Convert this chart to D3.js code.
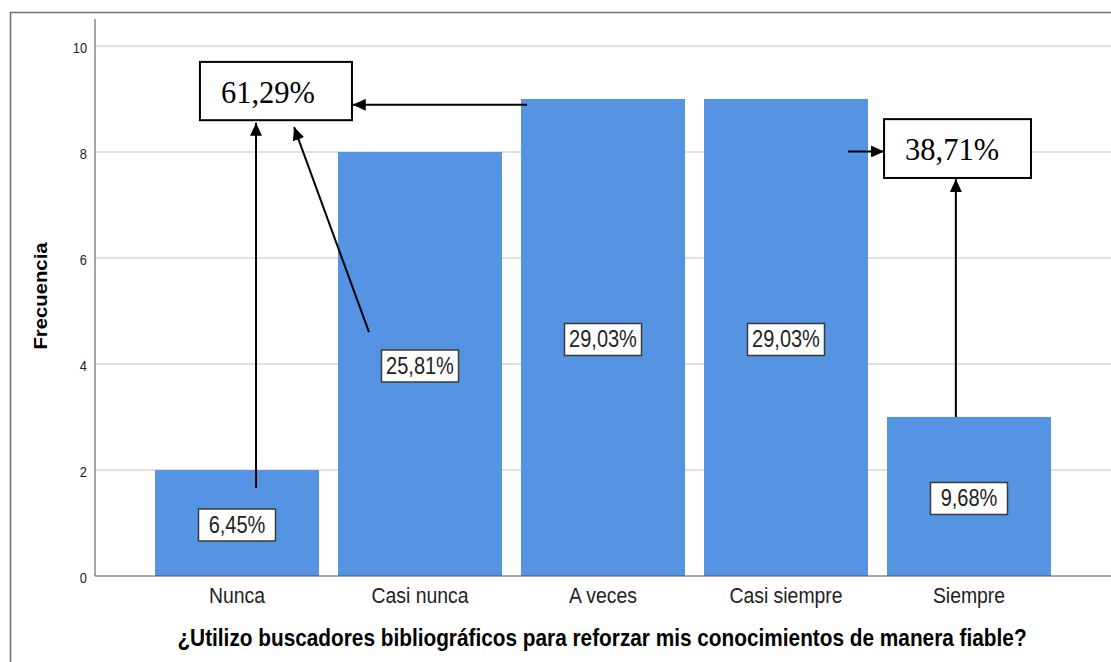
<!DOCTYPE html>
<html>
<head>
<meta charset="utf-8">
<script src="https://cdn.jsdelivr.net/npm/d3@7"></script>
<style>
  html, body { margin: 0; padding: 0; background: #fff; }
  svg { display: block; }
</style>
</head>
<body>
<script>
// ---- data ----
const categories = ["Nunca", "Casi nunca", "A veces", "Casi siempre", "Siempre"];
const frequencies = [2, 8, 9, 9, 3];
const percentLabels = ["6,45%", "25,81%", "29,03%", "29,03%", "9,68%"];
const yTicks = [0, 2, 4, 6, 8, 10];
const yTitle = "Frecuencia";
const xTitle = "¿Utilizo buscadores bibliográficos para reforzar mis conocimientos de manera fiable?";
const groupLabels = ["61,29%", "38,71%"];

// annotation boxes in data units: [catIndex, fraction-of-band] for x, value for y
const groupBoxes = [
  { label: groupLabels[0], x0: [0, 0.274], x1: [1, 0.085], y0: 9.70, y1: 8.60 },
  { label: groupLabels[1], x0: [4, -0.018], x1: [4, 0.878], y0: 8.62, y1: 7.51 }
];
const arrows = [
  { from: [[2, 0.037], 8.89], to: [[1, 0.09], 8.89] },
  { from: [[0, 0.616], 1.66], to: [[0, 0.616], 8.55] },
  { from: [[1, 0.189], 4.60], to: [[0, 0.848], 8.47] },
  { from: [[3, 0.878], 8.01], to: [[4, -0.018], 8.01] },
  { from: [[4, 0.42], 3.0], to: [[4, 0.42], 7.49] }
];

// ---- layout ----
const W = 1111, H = 662;
const stretch = 1.16;
const svg = d3.select("body").append("svg").attr("width", W).attr("height", H);

const x = d3.scaleBand().domain(categories).range([95, 1111])
  .paddingInner(0.104).paddingOuter(0.328);
const y = d3.scaleLinear().domain([0, 10]).range([576, 46]);
const xp = ([i, f]) => x(categories[i]) + f * x.bandwidth();

// outer frame
svg.append("rect").attr("x", 10.5).attr("y", 12.5).attr("width", 1200).attr("height", 800)
  .attr("fill", "none").attr("stroke", "#6e6e6e").attr("stroke-width", 1.5);

// gridlines
svg.append("g").selectAll("line").data(yTicks.filter(d => d > 0)).join("line")
  .attr("x1", 95).attr("x2", 1111)
  .attr("y1", d => y(d)).attr("y2", d => y(d))
  .attr("stroke", "#d6d6d6").attr("stroke-width", 1.5);

// y axis line
svg.append("line").attr("x1", 95).attr("x2", 95).attr("y1", 19).attr("y2", y(0))
  .attr("stroke", "#8a8a8a").attr("stroke-width", 1.5);

// y tick labels
svg.append("g").selectAll("text").data(yTicks).join("text")
  .attr("transform", d => `translate(87,${y(d) + 6.5}) scale(1,${stretch})`)
  .attr("text-anchor", "end")
  .attr("font-family", "Liberation Sans, Arial, sans-serif")
  .attr("font-size", 12.8).attr("fill", "#222")
  .text(d => d);

// bars
svg.append("g").selectAll("rect").data(frequencies).join("rect")
  .attr("x", (d, i) => x(categories[i]))
  .attr("width", x.bandwidth())
  .attr("y", d => y(d))
  .attr("height", d => y(0) - y(d))
  .attr("fill", "#5594e3");

// x axis baseline
svg.append("line").attr("x1", 95).attr("x2", 1111).attr("y1", y(0)).attr("y2", y(0))
  .attr("stroke", "#555").attr("stroke-width", 1.2);

// x tick labels
svg.append("g").selectAll("text").data(categories).join("text")
  .attr("transform", d => `translate(${x(d) + x.bandwidth() / 2},603) scale(1,${stretch})`)
  .attr("text-anchor", "middle")
  .attr("font-family", "Liberation Sans, Arial, sans-serif")
  .attr("font-size", 19.4).attr("fill", "#222")
  .text(d => d);

// axis titles
svg.append("text")
  .attr("transform", `translate(47,296) scale(1,${stretch}) rotate(-90)`)
  .attr("text-anchor", "middle")
  .attr("font-family", "Liberation Sans, Arial, sans-serif")
  .attr("font-weight", "bold").attr("font-size", 17.5).attr("fill", "#000")
  .text(yTitle);

svg.append("text")
  .attr("transform", `translate(602,646) scale(1,${stretch})`)
  .attr("text-anchor", "middle")
  .attr("font-family", "Liberation Sans, Arial, sans-serif")
  .attr("font-weight", "bold").attr("font-size", 20.8).attr("fill", "#000")
  .text(xTitle);

// value label boxes inside bars
const lab = svg.append("g").selectAll("g").data(frequencies).join("g")
  .attr("transform", (d, i) => `translate(${x(categories[i]) + x.bandwidth() / 2},${(y(d) + y(0)) / 2 + 2})`);
lab.append("rect")
  .attr("x", -38.5).attr("y", -16).attr("width", 77).attr("height", 32)
  .attr("fill", "#fff").attr("stroke", "#3a3a3a").attr("stroke-width", 1.5);
lab.append("text")
  .attr("transform", `translate(0,7.5) scale(1,${stretch})`)
  .attr("text-anchor", "middle")
  .attr("font-family", "Liberation Sans, Arial, sans-serif")
  .attr("font-size", 20).attr("fill", "#222")
  .text((d, i) => percentLabels[i]);

// arrow marker
svg.append("defs").append("marker")
  .attr("id", "ah").attr("markerUnits", "userSpaceOnUse")
  .attr("markerWidth", 14).attr("markerHeight", 12)
  .attr("refX", 13).attr("refY", 6).attr("orient", "auto")
  .append("path").attr("d", "M0,0 L13,6 L0,12 Z").attr("fill", "#000");

svg.append("g").selectAll("line").data(arrows).join("line")
  .attr("x1", d => xp(d.from[0])).attr("y1", d => y(d.from[1]))
  .attr("x2", d => xp(d.to[0])).attr("y2", d => y(d.to[1]))
  .attr("stroke", "#000").attr("stroke-width", 2)
  .attr("marker-end", "url(#ah)");

// group boxes
const gb = svg.append("g").selectAll("g").data(groupBoxes).join("g");
gb.append("rect")
  .attr("x", d => xp(d.x0)).attr("y", d => y(d.y0))
  .attr("width", d => xp(d.x1) - xp(d.x0)).attr("height", d => y(d.y1) - y(d.y0))
  .attr("fill", "#fff").attr("stroke", "#000").attr("stroke-width", 2);
gb.append("text")
  .attr("x", d => xp(d.x0) + 21).attr("y", d => y(d.y0) + 41)
  .attr("font-family", "Liberation Serif, 'Times New Roman', serif")
  .attr("font-size", 30.5).attr("fill", "#000")
  .text(d => d.label);
</script>
</body>
</html>
